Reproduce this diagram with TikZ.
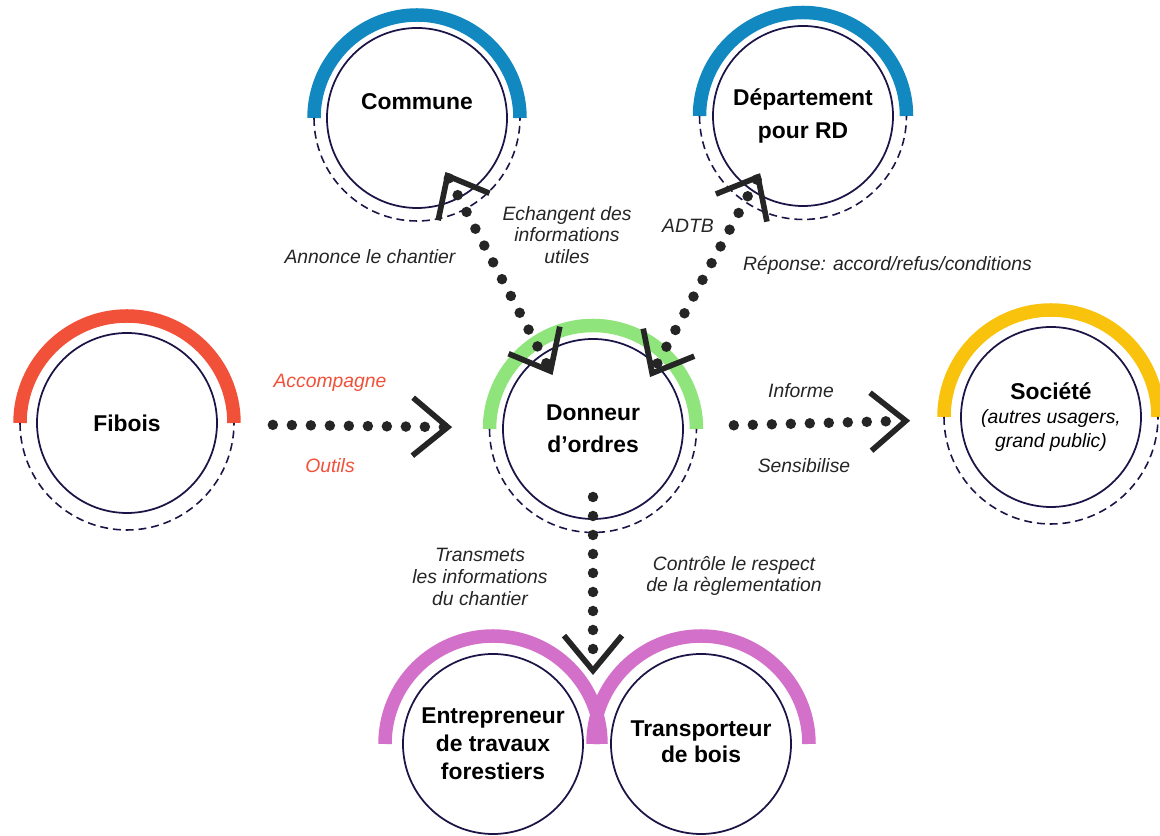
\documentclass[tikz,border=0pt]{standalone}
\usepackage{fontspec}
\setmainfont{Liberation Sans}
\usetikzlibrary{arrows.meta}

\definecolor{navy}{HTML}{1B1446}
\definecolor{ink}{HTML}{252525}
\definecolor{bluering}{HTML}{1189C0}
\definecolor{redring}{HTML}{F05138}
\definecolor{greenring}{HTML}{8FE47C}
\definecolor{yellowring}{HTML}{F9C20C}
\definecolor{pinkring}{HTML}{D370C9}

\newcommand{\subtxt}[1]{{\mdseries\itshape\fontsize{11}{13.6}\selectfont #1}}
\tikzset{chev/.tip={Straight Barb[length=0.7cm 0, width=1.16cm 0, line width=3.2pt 0]}}

\begin{document}
\begin{tikzpicture}[main/.style = {draw=navy, line width=1pt, circle, minimum size=3.6cm, inner sep=0pt, align=center, font=\bfseries\fontsize{13}{18.5}\selectfont},
    ring/.style = {line width=0.27cm},
    half/.style = {draw=navy, line width=0.9pt, dash pattern=on 4.5pt off 2.8pt},
    flow/.style = {draw=ink, line width=0.21cm, line cap=round, dash pattern=on 0pt off 0.38cm},
    lbl/.style = {font=\itshape\fontsize{11}{12.3}\selectfont, align=center, text=ink}]
            \useasboundingbox (0,0) rectangle (23.2,16.72);
            \node[main] (commune) at (8.34,14.36) {\raisebox{0.65cm}{Commune}};
            \node[main] (dept) at (16.06,14.40) {Département\\pour RD};
            \node[main] (donneur) at (11.86,8.14) {Donneur\\d’ordres};
            \node[main] (fibois) at (2.54,8.26) {Fibois};
            \node[main, font=\bfseries\fontsize{13}{13.6}\selectfont] (societe) at (21.02,8.38) {Société\\\subtxt{(autres usagers,}\\\subtxt{grand public)}};
            \node[main, font=\bfseries\fontsize{13}{16}\selectfont] (entre) at (9.86,1.84) {Entrepreneur\\de travaux\\forestiers};
            \node[main, font=\bfseries\fontsize{13}{15}\selectfont] (transp) at (14.02,1.84) {\raisebox{0.1cm}{Transporteur}\\\raisebox{0.1cm}{de bois}};
            \coordinate (junction) at (11.86,3.22);
            % coloured upper arcs and dashed lower halves
            \draw[ring, bluering] ([shift={(180:2.06)}]commune.center) arc (180:0:2.06);
            \draw[half] ([shift={(180:2.06)}]commune.center) arc (180:360:2.06);
            \draw[ring, bluering] ([shift={(180:2.07)}]dept.center) arc (180:0:2.07);
            \draw[half] ([shift={(180:2.07)}]dept.center) arc (180:360:2.07);
            \draw[ring, greenring] ([shift={(180:2.07)}]donneur.center) arc (180:0:2.07);
            \draw[half] ([shift={(180:2.07)}]donneur.center) arc (180:360:2.07);
            \draw[ring, redring] ([shift={(180:2.14)}]fibois.center) arc (180:0:2.14);
            \draw[half] ([shift={(180:2.14)}]fibois.center) arc (180:360:2.14);
            \draw[ring, yellowring] ([shift={(180:2.14)}]societe.center) arc (180:0:2.14);
            \draw[half] ([shift={(180:2.14)}]societe.center) arc (180:360:2.14);
            \draw[ring, pinkring] ([shift={(180:2.16)}]entre.center) arc (180:0:2.16);
            \draw[ring, pinkring] ([shift={(180:2.16)}]transp.center) arc (180:0:2.16);
            % connectors
            \path[flow]
            (fibois) edge[-chev, shorten <=1.1cm, shorten >=1cm] (donneur)
            (donneur) edge[-chev, shorten <=1cm, shorten >=1cm] (societe)
            (donneur.center) edge[-chev, shorten <=1.36cm] (junction)
            (commune.center) edge[chev-chev, shorten <=1.22cm, shorten >=1.22cm] ([xshift=-0.24cm]donneur.center)
            ([xshift=-0.24cm]dept.center) edge[chev-chev, shorten <=1.3cm, shorten >=1.18cm] ([xshift=0.58cm]donneur.center);
            % labels
            \node[lbl] (annonce) at (7.40,11.58) {Annonce le chantier};
            \node[lbl] (echange) at (11.34,12.02) {Echangent des\\informations\\utiles};
            \node[lbl] (adtb) at (13.76,12.20) {ADTB};
            \node[lbl] (reponse) at (17.75,11.42) {Réponse: accord/refus/conditions};
            \node[lbl, text=redring] (accomp) at (6.60,9.06) {Accompagne};
            \node[lbl, text=redring] (outils) at (6.60,7.40) {Outils};
            \node[lbl] (informe) at (16.02,8.90) {Informe};
            \node[lbl] (sensib) at (16.08,7.40) {Sensibilise};
            \node[lbl] (transmets) at (9.60,5.18) {Transmets\\les informations\\du chantier};
            \node[lbl] (controle) at (14.68,5.20) {Contrôle le respect\\de la règlementation};
        \end{tikzpicture}
\end{document}
